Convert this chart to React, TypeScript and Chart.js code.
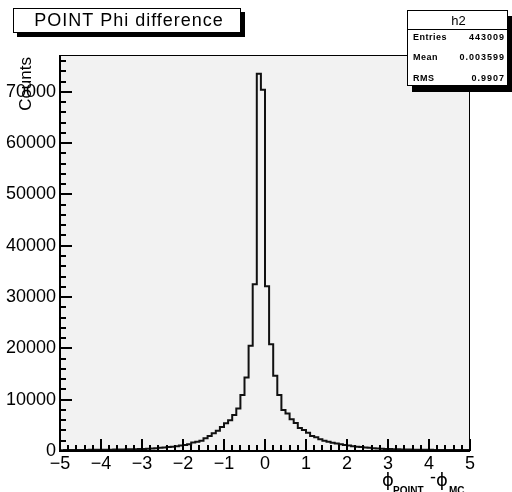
import React, { useEffect, useRef } from "react";
import { Chart, registerables } from "chart.js";

Chart.register(...registerables);

// Histogram binning
const X_MIN = -5;
const X_MAX = 5;
const BIN_WIDTH = 0.1;

// Counts per bin (bin low edges -5.0, -4.9, ..., 4.9)
const counts = [
  180, 170, 190, 185, 200, 195, 210, 205, 220, 230,
  235, 245, 250, 265, 270, 290, 300, 320, 340, 360,
  380, 410, 450, 500, 560, 620, 680, 760, 850, 950,
  1050, 1150, 1300, 1650, 1800, 2000, 2470, 2900, 3450, 3950,
  4700, 5400, 6000, 7000, 8300, 10900, 14300, 20500, 32500, 73500,
  70400, 32100, 20800, 14650, 10900, 8000, 7300, 6200, 5450, 4470,
  4090, 3560, 2920, 2670, 2280, 2000, 1800, 1600, 1450, 1300,
  1180, 1060, 950, 850, 760, 680, 610, 550, 500, 450,
  410, 380, 350, 330, 310, 290, 275, 260, 250, 240,
  230, 220, 215, 205, 200, 195, 190, 185, 180, 175,
];

const xTicks = [-5, -4, -3, -2, -1, 0, 1, 2, 3, 4, 5];
const yTicks = [0, 10000, 20000, 30000, 40000, 50000, 60000, 70000];

const titleText = "POINT Phi difference";
const statsName = "h2";
const statsLabels = ["Entries", "Mean", "RMS"];
const statsValues = ["443009", "0.003599", "0.9907"];
const yTitle = "Counts";

const FONT = "'Liberation Sans', Arial, Helvetica, sans-serif";

const decorPlugin = {
  id: "rootDecor",
  beforeDraw(chart: any) {
    const { ctx, chartArea: a } = chart;
    ctx.save();
    ctx.fillStyle = "#ffffff";
    ctx.fillRect(0, 0, chart.width, chart.height);
    ctx.fillStyle = "#f2f2f2";
    ctx.fillRect(a.left, a.top, a.right - a.left, a.bottom - a.top);
    ctx.restore();
  },
  afterDraw(chart: any) {
    const { ctx, chartArea: a, scales } = chart;
    const xs = scales.x;
    const ys = scales.y;
    ctx.save();
    // frame
    ctx.strokeStyle = "#000";
    ctx.lineWidth = 1;
    ctx.strokeRect(a.left + 0.5, a.top + 0.5, a.right - a.left - 1, a.bottom - a.top - 1);
    ctx.lineWidth = 2;
    ctx.beginPath();
    ctx.moveTo(a.left, a.top);
    ctx.lineTo(a.left, a.bottom);
    ctx.lineTo(a.right, a.bottom);
    ctx.stroke();

    // y ticks (inside)
    const yMax = ys.max;
    for (let k = 0; k * 2000 <= yMax; k++) {
      const v = k * 2000;
      const py = Math.round(ys.getPixelForValue(v));
      const major = v % 10000 === 0;
      ctx.lineWidth = 2;
      ctx.beginPath();
      ctx.moveTo(a.left, py);
      ctx.lineTo(a.left + (major ? 12 : 6), py);
      ctx.stroke();
    }
    // x ticks (inside)
    for (let k = 0; k <= 50; k++) {
      const v = X_MIN + k * 0.2;
      const px = Math.round(xs.getPixelForValue(v));
      const major = k % 5 === 0;
      ctx.lineWidth = 2;
      ctx.beginPath();
      ctx.moveTo(px, a.bottom);
      ctx.lineTo(px, a.bottom - (major ? 12 : 6));
      ctx.stroke();
    }

    // Y axis title
    ctx.save();
    ctx.translate(31, a.top + 2);
    ctx.rotate(-Math.PI / 2);
    ctx.fillStyle = "#000";
    ctx.font = `17px ${FONT}`;
    ctx.textAlign = "right";
    ctx.textBaseline = "alphabetic";
    ctx.fillText(yTitle, 0, 0);
    ctx.restore();

    // X axis title: phi_POINT - phi_MC
    ctx.fillStyle = "#000";
    ctx.textAlign = "left";
    ctx.textBaseline = "alphabetic";
    ctx.font = `18px 'DejaVu Sans', sans-serif`;
    ctx.fillText("\u03D5", 382, 486);
    ctx.font = `bold 10px ${FONT}`;
    ctx.fillText("POINT", 393, 494);
    ctx.font = `18px ${FONT}`;
    ctx.fillText("-", 430, 483);
    ctx.font = `18px 'DejaVu Sans', sans-serif`;
    ctx.fillText("\u03D5", 436, 486);
    ctx.font = `bold 10px ${FONT}`;
    ctx.fillText("MC", 449, 494);

    // Title box
    ctx.fillStyle = "#000";
    ctx.fillRect(17, 12, 228, 25);
    ctx.fillStyle = "#fff";
    ctx.fillRect(13, 8, 228, 25);
    ctx.lineWidth = 1;
    ctx.strokeStyle = "#000";
    ctx.strokeRect(13.5, 8.5, 227, 24);
    ctx.fillStyle = "#000";
    ctx.font = `18px ${FONT}`;
    (ctx as any).letterSpacing = "1px";
    ctx.textAlign = "center";
    ctx.textBaseline = "middle";
    ctx.fillText(titleText, 129, 21);

    // Stats box
    const bx = 407, by = 10, bw = 101, bh = 76;
    ctx.fillStyle = "#000";
    ctx.fillRect(bx + 5, by + 6, bw, bh);
    ctx.fillStyle = "#fff";
    ctx.fillRect(bx, by, bw, bh);
    ctx.strokeStyle = "#000";
    ctx.lineWidth = 1;
    ctx.strokeRect(bx + 0.5, by + 0.5, bw - 1, bh - 1);
    ctx.beginPath();
    ctx.moveTo(bx, 29.5);
    ctx.lineTo(bx + bw, 29.5);
    ctx.stroke();
    ctx.fillStyle = "#000";
    (ctx as any).letterSpacing = "0px";
    ctx.font = `13px ${FONT}`;
    ctx.textAlign = "center";
    ctx.fillText(statsName, bx + bw / 2 + 1, 21);
    ctx.font = `bold 9px ${FONT}`;
    const rowsY = [38, 58, 79];
    statsLabels.forEach((lab, i) => {
      (ctx as any).letterSpacing = "0.5px";
      ctx.textAlign = "left";
      ctx.fillText(lab, bx + 6, rowsY[i]);
      (ctx as any).letterSpacing = "1px";
      ctx.textAlign = "right";
      ctx.fillText(statsValues[i], bx + bw - 3, rowsY[i]);
    });
    (ctx as any).letterSpacing = "0px";

    ctx.restore();
  },
};

export default function App() {
  const canvasRef = useRef<HTMLCanvasElement | null>(null);

  useEffect(() => {
    if (!canvasRef.current) return;
    const points = counts.map((c, i) => ({ x: X_MIN + i * BIN_WIDTH, y: c }));
    points.push({ x: X_MAX, y: counts[counts.length - 1] });
    const yMax = Math.max(...counts) * 1.05;

    const chart = new Chart(canvasRef.current, {
      type: "line",
      data: {
        datasets: [
          {
            data: points,
            stepped: "after",
            borderColor: "#111",
            borderWidth: 2,
            pointRadius: 0,
            fill: false,
          },
        ],
      },
      options: {
        animation: false,
        responsive: false,
        devicePixelRatio: 1,
        layout: { padding: { top: 55, right: 42, left: 0, bottom: 0 } },
        plugins: { legend: { display: false }, tooltip: { enabled: false } },
        scales: {
          x: {
            type: "linear",
            min: X_MIN,
            max: X_MAX,
            grid: { display: false, drawTicks: false },
            border: { display: false },
            afterBuildTicks: (s: any) => {
              s.ticks = xTicks.map((v) => ({ value: v }));
            },
            afterFit: (s: any) => {
              s.height = 41;
            },
            ticks: {
              autoSkip: false,
              maxRotation: 0,
              padding: 2,
              color: "#000",
              font: { family: FONT, size: 18 },
              callback: (v: any) => (Number(v) < 0 ? "\u2212" + Math.abs(Number(v)) : String(v)),
            },
          },
          y: {
            type: "linear",
            min: 0,
            max: yMax,
            grid: { display: false, drawTicks: false },
            border: { display: false },
            afterBuildTicks: (s: any) => {
              s.ticks = yTicks.map((v) => ({ value: v }));
            },
            afterFit: (s: any) => {
              s.width = 60;
            },
            ticks: {
              padding: 4,
              color: "#000",
              font: { family: FONT, size: 18 },
              callback: (v: any) => String(v),
            },
          },
        },
      },
      plugins: [decorPlugin],
    });
    return () => chart.destroy();
  }, []);

  return (
    <div style={{ position: "fixed", left: 0, top: 0, width: 512, height: 492, background: "#fff" }}>
      <canvas ref={canvasRef} width={512} height={492} style={{ display: "block" }} />
    </div>
  );
}
